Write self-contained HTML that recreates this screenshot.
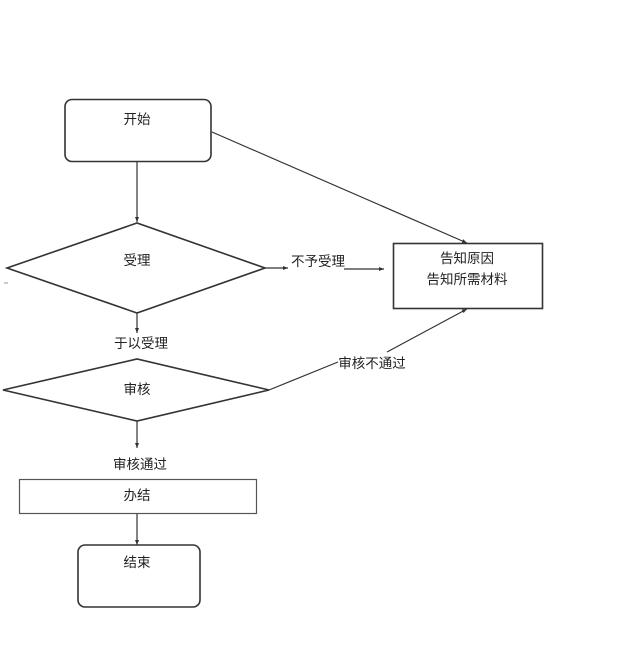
<!DOCTYPE html>
<html><head><meta charset="utf-8"><style>
html,body{margin:0;padding:0;background:#fff;}
svg{display:block;}
text{font-family:"Liberation Sans","Noto Sans CJK SC",sans-serif;font-size:13.5px;fill:#222;}
</style></head><body>
<svg width="637" height="654" viewBox="0 0 637 654" xmlns="http://www.w3.org/2000/svg">
<defs>
<marker id="a" markerWidth="6" markerHeight="6" refX="5" refY="3" orient="auto" markerUnits="userSpaceOnUse">
<path d="M0,1 L5,3 L0,5 Z" fill="#333"/>
</marker>
</defs>
<g fill="none" stroke="#333" stroke-width="1.6">
<rect x="65" y="99.5" width="146" height="62" rx="7"/>
<polygon points="7,268 137,223 265,268 137,313"/>
<polygon points="3,390 137,359 269,390 137,421"/>
<rect x="393.5" y="243.5" width="149" height="65"/>
<rect x="19.5" y="479.5" width="237" height="34" stroke="#555" stroke-width="1.2"/>
<rect x="78" y="545" width="122" height="62" rx="7"/>
</g>
<g fill="none" stroke="#333" stroke-width="1.2">
<line x1="137" y1="162" x2="137" y2="222" marker-end="url(#a)"/>
<line x1="212" y1="132" x2="467" y2="243" marker-end="url(#a)"/>
<line x1="265" y1="268" x2="288" y2="268" marker-end="url(#a)"/>
<line x1="344" y1="269" x2="384" y2="269" marker-end="url(#a)"/>
<line x1="137" y1="313" x2="137" y2="333" marker-end="url(#a)"/>
<line x1="269" y1="390" x2="338" y2="362"/>
<line x1="387" y1="352" x2="467" y2="309" marker-end="url(#a)"/>
<line x1="137" y1="421" x2="137" y2="448" marker-end="url(#a)"/>
<line x1="137" y1="514" x2="137" y2="545" marker-end="url(#a)"/>
</g>
<line x1="4" y1="283" x2="8" y2="283" stroke="#999" stroke-width="1"/>
<text x="137" y="124" text-anchor="middle">开始</text>
<text x="137" y="265" text-anchor="middle">受理</text>
<text x="318" y="266" text-anchor="middle">不予受理</text>
<text x="467" y="263" text-anchor="middle">告知原因</text>
<text x="467" y="284" text-anchor="middle">告知所需材料</text>
<text x="141" y="348" text-anchor="middle">于以受理</text>
<text x="372" y="368" text-anchor="middle">审核不通过</text>
<text x="137" y="394" text-anchor="middle">审核</text>
<text x="140" y="469" text-anchor="middle">审核通过</text>
<text x="137" y="500" text-anchor="middle">办结</text>
<text x="137" y="567" text-anchor="middle">结束</text>
</svg>
</body></html>
